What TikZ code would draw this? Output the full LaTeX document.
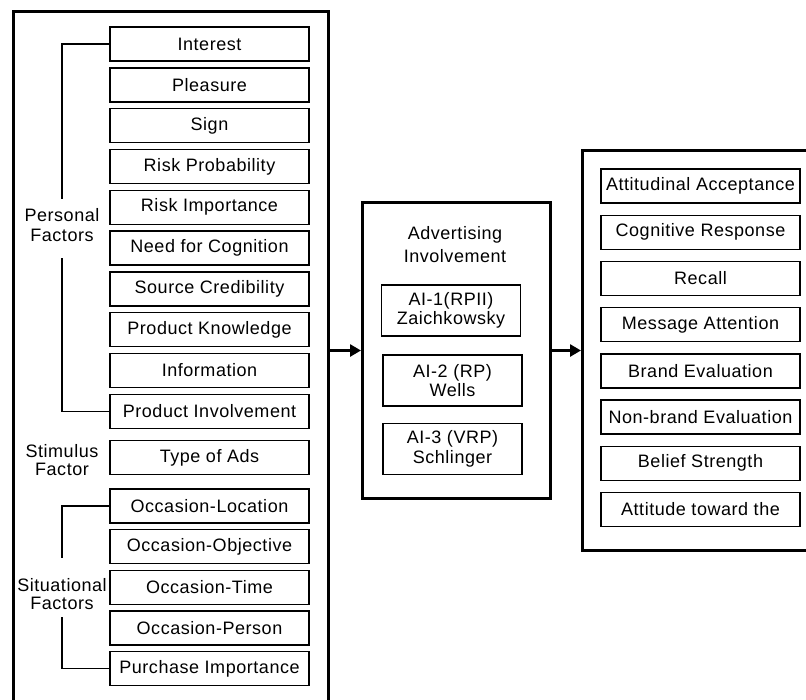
\documentclass[tikz,border=0pt]{standalone}
\usepackage{fontspec}
\setmainfont{Liberation Sans}[LetterSpace=3]
\usetikzlibrary{arrows.meta}
\begin{document}
\begin{tikzpicture}[x=1pt,y=-1pt,
  every node/.style={font=\fontsize{18}{22}\selectfont, inner sep=0pt},
  fbox/.style={draw, line width=1.4pt, minimum width=199pt, minimum height=34pt},
  abox/.style={draw, line width=1.4pt, minimum width=139pt, minimum height=51pt, align=center, font=\fontsize{18}{19.5}\selectfont},
  bigbox/.style={draw, line width=3pt, anchor=north west},
  brk/.style={line width=1.3pt},
  arr/.style={line width=2.6pt, -{Triangle[length=11pt,width=12pt]}},
  lbl/.style={align=center}
]
\clip (0,0) rectangle (806,699);
\fill[white] (0,0) rectangle (806,699);

% big containers
\node[bigbox, minimum width=315pt, minimum height=780pt] (L) at (12,10) {};
\node[bigbox, minimum width=188pt, minimum height=296pt] (M) at (361,201) {};
\node[bigbox, minimum width=300pt, minimum height=400pt] (R) at (581,149) {};

% left factor boxes
\node[fbox] (p1) at (209.5,44) {Interest};
\node[fbox] (p2) at (209.5,84.8) {Pleasure};
\node[fbox] (p3) at (209.5,125.6) {Sign};
\node[fbox] (p4) at (209.5,166.4) {Risk Probability};
\node[fbox] (p5) at (209.5,207.2) {Risk Importance};
\node[fbox] (p6) at (209.5,248) {Need for Cognition};
\node[fbox] (p7) at (209.5,288.8) {Source Credibility};
\node[fbox] (p8) at (209.5,329.6) {Product Knowledge};
\node[fbox] (p9) at (209.5,370.4) {Information};
\node[fbox] (p10) at (209.5,411.2) {Product Involvement};
\node[fbox] (s1) at (209.5,457.5) {Type of Ads};
\node[fbox] (o1) at (209.5,506) {Occasion-Location};
\node[fbox] (o2) at (209.5,546.6) {Occasion-Objective};
\node[fbox] (o3) at (209.5,587.2) {Occasion-Time};
\node[fbox] (o4) at (209.5,627.8) {Occasion-Person};
\node[fbox] (o5) at (209.5,668.4) {Purchase Importance};

% left labels
\node[lbl, font=\fontsize{18}{20}\selectfont] (pf) at (62,225.5) {Personal\\Factors};
\node[lbl, font=\fontsize{18}{18}\selectfont] (sf) at (62,460.5) {Stimulus\\Factor};
\node[lbl, font=\fontsize{18}{17.5}\selectfont] (tf) at (62,594) {Situational\\Factors};

\coordinate (pft) at (62,199);
\coordinate (pfb) at (62,258);
\coordinate (tft) at (62,558);
\coordinate (tfb) at (62,617);
\draw[brk] (p1.west) -| (pft);
\draw[brk] (pfb) |- (p10.west);
\draw[brk] (o1.west) -| (tft);
\draw[brk] (tfb) |- (o5.west);

% middle
\node[lbl, font=\fontsize{18}{23}\selectfont] (mt) at (455,245) {Advertising\\Involvement};
\node[abox] (a1) at (451,310.5) {AI-1(RPII)\\Zaichkowsky};
\node[abox] (a2) at (452.5,380.5) {AI-2 (RP)\\Wells};
\node[abox] (a3) at (452.5,449) {AI-3 (VRP)\\Schlinger};

% right boxes
\node[fbox] (r1) at (700.5,186) {Attitudinal Acceptance};
\node[fbox] (r2) at (700.5,232.2) {Cognitive Response};
\node[fbox] (r3) at (700.5,278.4) {Recall};
\node[fbox] (r4) at (700.5,324.6) {Message Attention};
\node[fbox] (r5) at (700.5,370.8) {Brand Evaluation};
\node[fbox] (r6) at (700.5,417) {Non-brand Evaluation};
\node[fbox] (r7) at (700.5,463.2) {Belief Strength};
\node[fbox] (r8) at (700.5,509.4) {Attitude toward the};

% arrows
\draw[arr] (L.east |- M.west) -- (M.west);
\draw[arr] (M.east) -- (R.west);
\end{tikzpicture}
\end{document}
